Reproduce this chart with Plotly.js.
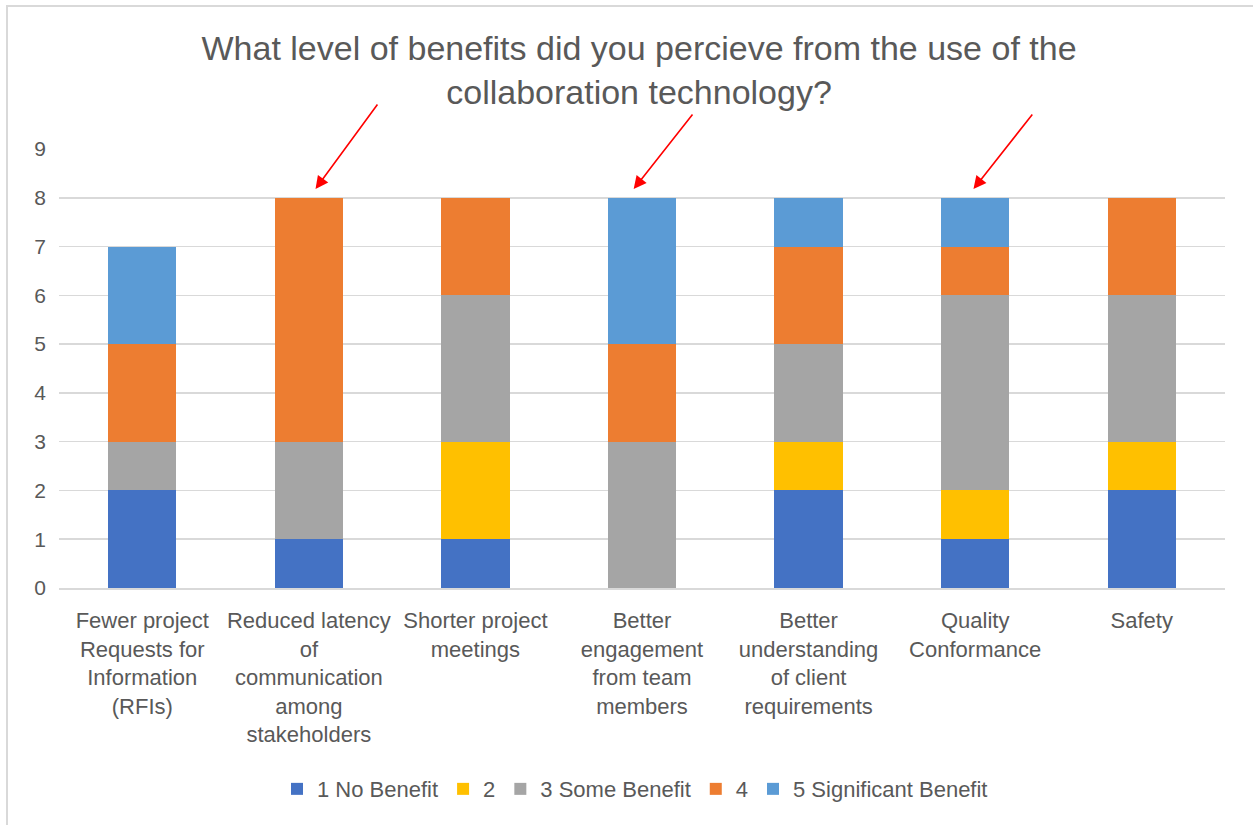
<!DOCTYPE html>
<html>
<head>
<meta charset="utf-8">
<script src="https://cdn.plot.ly/plotly-3.0.1.min.js"></script>
<style>
  html, body { margin: 0; padding: 0; background: #ffffff; }
  #wrap { position: relative; width: 1253px; height: 825px; overflow: hidden; }
  #chart { width: 1253px; height: 825px; }
  #frame { position: absolute; left: 6px; top: 5px; width: 1300px; height: 900px;
           border-left: 2px solid #d9d9d9; border-top: 2px solid #d9d9d9; pointer-events: none; }
</style>
</head>
<body>
<div id="wrap">
  <div id="chart"></div>
  <div id="frame"></div>
</div>
<script>
// Benefit categories (x axis)
const categories = [
  "Fewer project<br>Requests for<br>Information<br>(RFIs)",
  "Reduced latency<br>of<br>communication<br>among<br>stakeholders",
  "Shorter project<br>meetings",
  "Better<br>engagement<br>from team<br>members",
  "Better<br>understanding<br>of client<br>requirements",
  "Quality<br>Conformance",
  "Safety"
];

// Response counts per rating level
const noBenefit          = [2, 1, 1, 0, 2, 1, 2];
const rating2            = [0, 0, 2, 0, 1, 1, 1];
const someBenefit        = [1, 2, 3, 3, 2, 4, 3];
const rating4            = [2, 5, 2, 2, 2, 1, 2];
const significantBenefit = [2, 0, 0, 3, 1, 1, 0];

const seriesNames  = ["1 No Benefit", "2", "3 Some Benefit", "4", "5 Significant Benefit"];
const seriesValues = [noBenefit, rating2, someBenefit, rating4, significantBenefit];
const seriesColors = ["#4472C4", "#FFC000", "#A5A5A5", "#ED7D31", "#5B9BD5"];

const yTicks = [0, 1, 2, 3, 4, 5, 6, 7, 8, 9];

const traces = seriesValues.map((vals, i) => ({
  type: "bar",
  name: seriesNames[i],
  x: categories,
  y: vals,
  marker: { color: seriesColors[i], line: { width: 0 } },
  hoverinfo: "name+y"
}));

// Red callout arrows pointing at highlighted bars
const arrowStyle = {
  xref: "x", yref: "y", axref: "pixel", ayref: "pixel",
  text: "", showarrow: true, arrowhead: 2, arrowsize: 1.6,
  arrowwidth: 1.6, arrowcolor: "#FF0000", standoff: 0
};
const annotations = [
  Object.assign({ x: 1.04, y: 8.18, ax: 63, ay: -86 }, arrowStyle),
  Object.assign({ x: 2.95, y: 8.18, ax: 60, ay: -76 }, arrowStyle),
  Object.assign({ x: 4.99, y: 8.18, ax: 60, ay: -76 }, arrowStyle)
];

const layout = {
  width: 1253,
  height: 825,
  barmode: "stack",
  bargap: 0.59,
  paper_bgcolor: "#ffffff",
  plot_bgcolor: "#ffffff",
  font: { family: "Liberation Sans, Arial, sans-serif", color: "#595959" },
  margin: { l: 59, r: 28, t: 149, b: 237 },
  title: {
    text: "What level of benefits did you percieve from the use of the<br>collaboration technology?",
    font: { size: 34, color: "#595959" },
    x: 0.51, xanchor: "center",
    y: 0.927, yanchor: "top"
  },
  xaxis: {
    type: "category",
    tickfont: { size: 22, color: "#595959" },
    tickangle: 0,
    showgrid: false,
    showline: true, linecolor: "#d9d9d9", linewidth: 1.5,
    ticks: "", ticklabelstandoff: 12,
    fixedrange: true
  },
  yaxis: {
    range: [0, 9],
    tickvals: yTicks,
    ticktext: yTicks.map(String),
    tickfont: { size: 21, color: "#595959" },
    showgrid: true, gridcolor: "#d9d9d9", gridwidth: 1.5,
    zeroline: false,
    ticks: "", ticklabelstandoff: 12,
    fixedrange: true
  },
  legend: {
    orientation: "h",
    x: 0.494, xanchor: "center",
    y: -0.458, yanchor: "middle",
    font: { size: 22, color: "#595959" },
    traceorder: "normal"
  },
  annotations: annotations,
  showlegend: true
};

Plotly.newPlot("chart", traces, layout, { displayModeBar: false, staticPlot: true });
</script>
</body>
</html>
